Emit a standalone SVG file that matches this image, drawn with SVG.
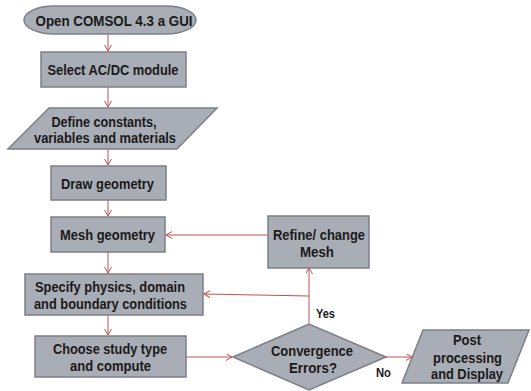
<svg xmlns="http://www.w3.org/2000/svg" width="531" height="391" viewBox="0 0 531 391">
<defs>
<style>
.n{fill:#a9adb5;stroke:#7d7f87;stroke-width:1.5}
.t{font-family:"Liberation Sans",Arial,sans-serif;font-weight:bold;font-size:15px;fill:#1a1a1a;text-anchor:middle}
.s{font-family:"Liberation Sans",Arial,sans-serif;font-weight:bold;font-size:12.5px;fill:#1a1a1a}
.c{fill:none;stroke:#c0504d;stroke-width:1}
</style>
<marker id="a" markerUnits="userSpaceOnUse" markerWidth="8" markerHeight="8" refX="6" refY="3.5" orient="auto">
<path d="M0,0 L6,3.5 L0,7" fill="none" stroke="#c0504d" stroke-width="1"/>
</marker>
</defs>
<rect width="531" height="391" fill="#ffffff"/>
<g id="connectors">
<path class="c" d="M108,34 V51" marker-end="url(#a)"/>
<path class="c" d="M108,87 V107" marker-end="url(#a)"/>
<path class="c" d="M108,149 V165" marker-end="url(#a)"/>
<path class="c" d="M108,200 V216" marker-end="url(#a)"/>
<path class="c" d="M108,252 V273" marker-end="url(#a)"/>
<path class="c" d="M108,315 V335" marker-end="url(#a)"/>
<path class="c" d="M186,357 H232" marker-end="url(#a)"/>
<path class="c" d="M386,357 H412" marker-end="url(#a)"/>
<path class="c" d="M309,323 V268" marker-end="url(#a)"/>
<path class="c" d="M309,296 L204,294" marker-end="url(#a)"/>
<path class="c" d="M268,235 H166" marker-end="url(#a)"/>
<text class="s" x="316" y="318" textLength="19" lengthAdjust="spacingAndGlyphs">Yes</text>
<text class="s" x="376" y="377" textLength="15" lengthAdjust="spacingAndGlyphs">No</text>
</g>
<g id="n-open">
<rect class="n" x="24" y="6" width="172" height="28" rx="30" ry="14"/>
<text class="t" x="114" y="26" textLength="157" lengthAdjust="spacingAndGlyphs">Open COMSOL 4.3 a GUI</text>
</g>
<g id="n-select">
<rect class="n" x="41" y="52" width="145" height="35"/>
<text class="t" x="113" y="75" textLength="131" lengthAdjust="spacingAndGlyphs">Select AC/DC module</text>
</g>
<g id="n-define">
<polygon class="n" points="49,108 217,108 177,149 8,149"/>
<text class="t" x="104" y="127" textLength="105" lengthAdjust="spacingAndGlyphs">Define constants,</text>
<text class="t" x="105" y="143" textLength="142" lengthAdjust="spacingAndGlyphs">variables and materials</text>
</g>
<g id="n-draw">
<rect class="n" x="51" y="166" width="115" height="34"/>
<text class="t" x="107.5" y="189" textLength="93" lengthAdjust="spacingAndGlyphs">Draw geometry</text>
</g>
<g id="n-mesh">
<rect class="n" x="51" y="217" width="114" height="35"/>
<text class="t" x="107.5" y="240" textLength="95" lengthAdjust="spacingAndGlyphs">Mesh geometry</text>
</g>
<g id="n-specify">
<rect class="n" x="25" y="274" width="178" height="41"/>
<text class="t" x="110" y="292" textLength="150" lengthAdjust="spacingAndGlyphs">Specify physics, domain</text>
<text class="t" x="110.5" y="309" textLength="153" lengthAdjust="spacingAndGlyphs">and boundary conditions</text>
</g>
<g id="n-choose">
<rect class="n" x="35" y="336" width="151" height="41"/>
<text class="t" x="110" y="354" textLength="114" lengthAdjust="spacingAndGlyphs">Choose study type</text>
<text class="t" x="110.5" y="371" textLength="81" lengthAdjust="spacingAndGlyphs">and compute</text>
</g>
<g id="n-refine">
<rect class="n" x="268" y="216" width="101" height="52"/>
<text class="t" x="319" y="240" textLength="92" lengthAdjust="spacingAndGlyphs">Refine/ change</text>
<text class="t" x="317" y="257" textLength="34" lengthAdjust="spacingAndGlyphs">Mesh</text>
</g>
<g id="n-converge">
<polygon class="n" points="233,357 309,324 386,357 309,390"/>
<text class="t" x="312" y="356" textLength="82" lengthAdjust="spacingAndGlyphs">Convergence</text>
<text class="t" x="313" y="373" textLength="48" lengthAdjust="spacingAndGlyphs">Errors?</text>
</g>
<g id="n-post">
<polygon class="n" points="423,330 529,330 508,383 402,383"/>
<text class="t" x="467" y="345" textLength="28" lengthAdjust="spacingAndGlyphs">Post</text>
<text class="t" x="467.5" y="363" textLength="69" lengthAdjust="spacingAndGlyphs">processing</text>
<text class="t" x="467" y="379" textLength="72" lengthAdjust="spacingAndGlyphs">and Display</text>
</g>
</svg>
